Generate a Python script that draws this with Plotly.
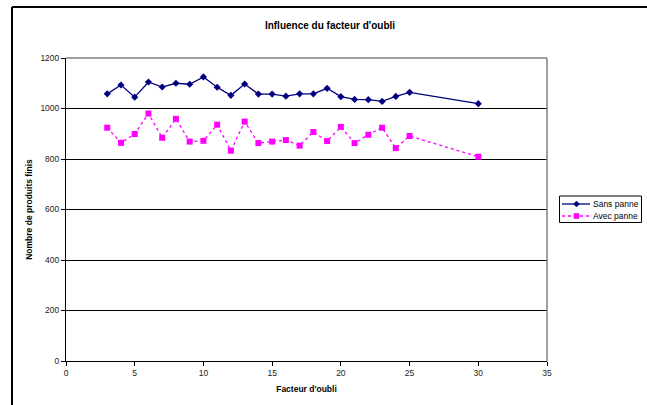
import plotly.graph_objects as go

facteur_sans = [3, 4, 5, 6, 7, 8, 9, 10, 11, 12, 13, 14, 15, 16, 17, 18, 19, 20, 21, 22, 23, 24, 25, 30]
sans_panne = [1058, 1093, 1045, 1105, 1085, 1100, 1096, 1125, 1084, 1052, 1097, 1057, 1057, 1049, 1058,
              1058, 1080, 1047, 1036, 1035, 1028, 1048, 1064, 1019]
facteur_avec = [3, 4, 5, 6, 7, 8, 9, 10, 11, 12, 13, 14, 15, 16, 17, 18, 19, 20, 21, 22, 23, 24, 25, 30]
avec_panne = [924, 864, 899, 980, 884, 959, 869, 872, 936, 833, 948, 863, 869, 875, 853,
              907, 871, 927, 863, 896, 924, 843, 891, 809]

x_ticks = [0, 5, 10, 15, 20, 25, 30, 35]
y_ticks = [0, 200, 400, 600, 800, 1000, 1200]

FONT = "Liberation Sans, Arial, sans-serif"
BLUE = "#000080"
PINK = "#FF00FF"

fig = go.Figure()
fig.add_trace(go.Scatter(
    x=facteur_sans, y=sans_panne, name="Sans panne", mode="lines+markers",
    line=dict(color=BLUE, width=1.3),
    marker=dict(symbol="diamond", size=5.5, color=BLUE),
))
fig.add_trace(go.Scatter(
    x=facteur_avec, y=avec_panne, name="Avec panne", mode="lines+markers",
    line=dict(color=PINK, width=1.3, dash="dot"),
    marker=dict(symbol="square", size=6, color=PINK),
))

W, H = 647, 405
L, R, T, B = 66, 100, 58, 44
pw, ph = W - L - R, H - T - B

def px(x):
    return (x - L) / pw

def py(y):
    return (H - B - y) / ph

shapes = [
    # outer chart frame (top and left visible)
    dict(type="line", xref="paper", yref="paper", x0=px(12), x1=px(700), y0=py(7), y1=py(7),
         line=dict(color="black", width=2), layer="above"),
    dict(type="line", xref="paper", yref="paper", x0=px(12), x1=px(12), y0=py(7), y1=py(460),
         line=dict(color="black", width=2), layer="above"),
    # plot area border (top, right) in grey
    dict(type="line", xref="paper", yref="paper", x0=0, x1=1, y0=1, y1=1,
         line=dict(color="#808080", width=1.5), layer="above"),
    dict(type="line", xref="paper", yref="paper", x0=1, x1=1, y0=0, y1=1,
         line=dict(color="#808080", width=1.5), layer="above"),
    # legend box
    dict(type="rect", xref="paper", yref="paper", x0=px(559.5), x1=px(641.5), y0=py(222.5), y1=py(196),
         line=dict(color="black", width=1), fillcolor="white", layer="above"),
    # legend line samples
    dict(type="line", xref="paper", yref="paper", x0=px(562), x1=px(590), y0=py(204), y1=py(204),
         line=dict(color=BLUE, width=1.3), layer="above"),
    dict(type="line", xref="paper", yref="paper", x0=px(562), x1=px(590), y0=py(216), y1=py(216),
         line=dict(color=PINK, width=1.3, dash="dot"), layer="above"),
]

# legend marker samples
cx, cy, d = 576.5, 204, 3.0
shapes.append(dict(type="path", xref="paper", yref="paper",
                   path=f"M {px(cx)},{py(cy - d)} L {px(cx + d)},{py(cy)} L {px(cx)},{py(cy + d)} L {px(cx - d)},{py(cy)} Z",
                   fillcolor=BLUE, line=dict(color=BLUE, width=0.5), layer="above"))
cy2, s = 216, 2.8
shapes.append(dict(type="rect", xref="paper", yref="paper",
                   x0=px(cx - s), x1=px(cx + s), y0=py(cy2 + s), y1=py(cy2 - s),
                   fillcolor=PINK, line=dict(color=PINK, width=0), layer="above"))

annotations = [
    dict(text="Sans panne", xref="paper", yref="paper", x=px(591), y=py(204), xanchor="left",
         yanchor="middle", showarrow=False, font=dict(size=8.5, color="black", family=FONT)),
    dict(text="Avec panne", xref="paper", yref="paper", x=px(591), y=py(216), xanchor="left",
         yanchor="middle", showarrow=False, font=dict(size=8.5, color="black", family=FONT)),
]

fig.update_layout(
    width=W, height=H, autosize=False,
    margin=dict(l=L, r=R, t=T, b=B, pad=0),
    paper_bgcolor="white", plot_bgcolor="white",
    font=dict(family=FONT, size=8.5, color="black"),
    title=dict(text="<b>Influence du facteur d'oubli</b>", x=330 / W, xanchor="center",
               y=1 - 25 / H, yanchor="middle", font=dict(size=10, family=FONT, color="black")),
    xaxis=dict(
        range=[0, 35], tickvals=x_ticks, ticktext=[str(v) for v in x_ticks],
        showgrid=False, zeroline=False, showline=True, linecolor="black", linewidth=1,
        ticks="outside", ticklen=4, tickcolor="black", tickfont=dict(size=8.5, color="#222"),
        title=dict(text="<b>Facteur d'oubli</b>", font=dict(size=8.5), standoff=8),
    ),
    yaxis=dict(
        range=[0, 1200], tickvals=y_ticks, ticktext=[str(v) for v in y_ticks],
        showgrid=True, gridcolor="black", gridwidth=1, zeroline=False,
        showline=True, linecolor="black", linewidth=1,
        ticks="outside", ticklen=4, tickcolor="black", tickfont=dict(size=8.5, color="#222"),
        title=dict(text="<b>Nombre de produits finis</b>", font=dict(size=8.5), standoff=6),
    ),
    showlegend=False,
    shapes=shapes,
    annotations=annotations,
)

fig.write_html("out.html", config={"displayModeBar": False},
               post_script="document.body.style.margin='0';document.body.style.padding='0';")
